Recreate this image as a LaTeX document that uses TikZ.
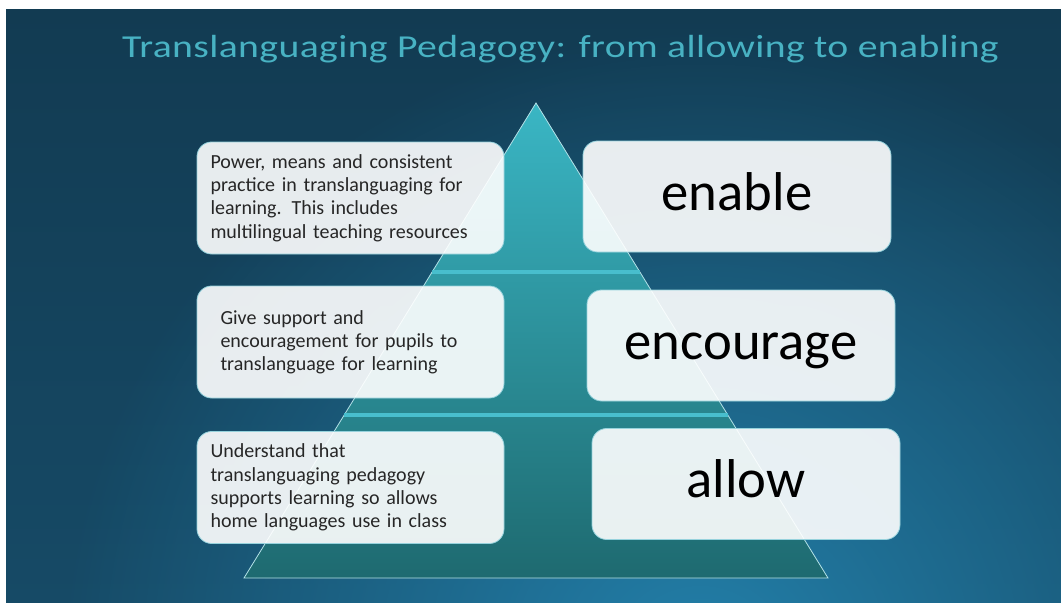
\documentclass[tikz,border=0pt]{standalone}
\usepackage{fontspec}
\setmainfont{Carlito}
\newfontfamily\titlefont[LetterSpace=1]{Carlito}
\usepackage{graphicx}
\usepackage{tikz}
\usetikzlibrary{calc,positioning,fadings}
\definecolor{bgtop}{RGB}{18,59,82}
\definecolor{bgbot}{RGB}{22,74,102}
\definecolor{glowblue}{RGB}{35,128,170}
\definecolor{pyrtop}{RGB}{58,182,196}
\definecolor{pyrmid}{RGB}{43,148,164}
\definecolor{pyrbot}{RGB}{30,106,112}
\definecolor{pyredge}{RGB}{180,226,232}
\definecolor{bandline}{RGB}{72,190,205}
\definecolor{boxedge}{RGB}{150,210,220}
\definecolor{titleteal}{RGB}{72,178,195}
\definecolor{inkgray}{RGB}{38,38,38}
\tikzfading[name=glowfade, inner color=transparent!0, outer color=transparent!100]

\begin{document}
\begin{tikzpicture}[x=0.75pt, y=-0.75pt,
  descbox/.style={rectangle, rounded corners=11pt, draw=boxedge, line width=0.6pt,
    fill=white, fill opacity=0.9, text opacity=1, text=inkgray,
    minimum width=230.25pt, minimum height=84pt, align=left,
    text width=210pt, inner xsep=10.125pt, font=\fontsize{15}{17.4}\selectfont},
  wordbox/.style={rectangle, rounded corners=11pt, draw=boxedge, line width=0.6pt,
    fill=white, fill opacity=0.9, text opacity=1, text=black,
    minimum width=231pt, minimum height=83.25pt,
    text height=30.75pt, text depth=10.25pt,
    font=\fontsize{41}{41}\selectfont},
  band/.style={bandline, line width=2.6pt}
]
\useasboundingbox (0,0) rectangle (1061,603);
% backdrop
\shade[top color=bgtop, bottom color=bgbot] (6,9) rectangle (1061,603);
\begin{scope}
  \clip (6,9) rectangle (1061,603);
  \fill[glowblue, path fading=glowfade] (700,670) circle (640);
\end{scope}

\node[font=\titlefont\fontsize{24}{24}\selectfont, text=titleteal, anchor=base]
  (title) at (560.5,57)
  {\scalebox{1.24}[1]{Translanguaging Pedagogy: from allowing to enabling}};

% pyramid
\coordinate (apex) at (536,103);
\coordinate (baseL) at (244,578);
\coordinate (baseR) at (828,578);
\shadedraw[top color=pyrtop, middle color=pyrmid, bottom color=pyrbot,
  draw=pyredge, line width=0.6pt] (apex) -- (baseR) -- (baseL) -- cycle;
\coordinate (upL) at ($(apex)!0.3558!(baseL)$);
\coordinate (upR) at ($(apex)!0.3558!(baseR)$);
\coordinate (lowL) at ($(apex)!0.6568!(baseL)$);
\coordinate (lowR) at ($(apex)!0.6568!(baseR)$);
\draw[band] (upL) -- (upR);
\draw[band] (lowL) -- (lowR);

% left descriptions
\node[descbox] (power) at (350.5,198)
  {Power, means and consistent\\practice in translanguaging for\\learning. This includes\\multilingual teaching resources};
\node[descbox, text width=195pt, inner xsep=17.625pt] (support) at (350.5,342)
  {Give support and\\encouragement for pupils to\\translanguage for learning};
\node[descbox] (understand) at (350.5,487.5)
  {Understand that\\translanguaging pedagogy\\supports learning so allows\\home languages use in class};

% right words
\node[wordbox] (enable) at (737,196.5) {enable};
\node[wordbox] (encourage) at (741,345.5) {encourage};
\node[wordbox] (allow) at (746,484) {allow};
\end{tikzpicture}
\end{document}
